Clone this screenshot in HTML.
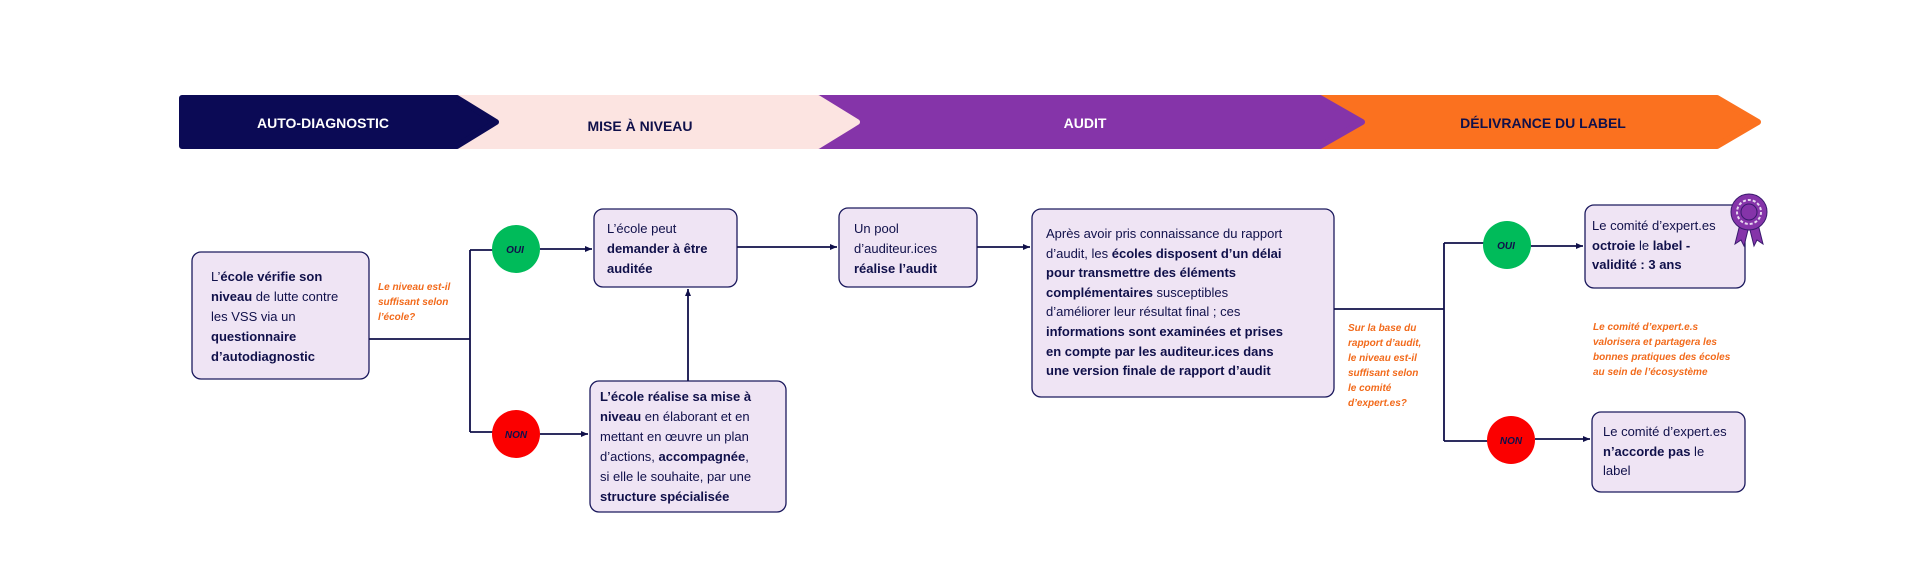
<!DOCTYPE html>
<html><head><meta charset="utf-8"><style>
body{margin:0;width:1920px;height:580px;background:#fff;position:relative;overflow:hidden;font-family:"Liberation Sans",sans-serif;color:#10104a}
.t{position:absolute;font-size:13px;line-height:20px;white-space:nowrap}
.t b{font-weight:bold}
.o{position:absolute;font-size:10px;line-height:15px;font-weight:bold;font-style:italic;color:#f26a1b;white-space:nowrap}
.bn{position:absolute;font-size:14px;font-weight:bold;transform:translate(-50%,-50%);white-space:nowrap}
</style></head><body>
<svg width="1920" height="580" style="position:absolute;left:0;top:0">
<defs><marker id="a" markerWidth="8" markerHeight="8" refX="7" refY="4" orient="auto" markerUnits="userSpaceOnUse"><path d="M0,1 L7,4 L0,7 Z" fill="#10104a"/></marker></defs>
<g stroke-linejoin="round" stroke-width="6">
<path d="M1310,98 H1717 L1758,122 L1717,146 H1310 Z" fill="#fb711f" stroke="#fb711f"/>
<path d="M775,98 H1320 L1362,122 L1320,146 H775 Z" fill="#8534a9" stroke="#8534a9"/>
<path d="M450,98 H818 L857,122 L818,146 H450 Z" fill="#fce4e1" stroke="#fce4e1"/>
<path d="M182,98 H457 L496,122 L457,146 H182 Z" fill="#0b0a55" stroke="#0b0a55"/>
</g>
<g fill="#efe4f4" stroke="#1c1a5e" stroke-width="1.3">
<rect x="192" y="252" width="177" height="127" rx="9"/>
<rect x="594" y="209" width="143" height="78" rx="9"/>
<rect x="839" y="208" width="138" height="79" rx="9"/>
<rect x="590" y="381" width="196" height="131" rx="9"/>
<rect x="1032" y="209" width="302" height="188" rx="9"/>
<rect x="1585" y="205" width="160" height="83" rx="9"/>
<rect x="1592" y="412" width="153" height="80" rx="9"/>
</g>
<g stroke="#10104a" stroke-width="1.8" fill="none">
<path d="M369,339 H470 M470,250 V432 M470,250 H500 M470,432 H500"/>
<path d="M540,249 H592" marker-end="url(#a)"/>
<path d="M540,434 H588" marker-end="url(#a)"/>
<path d="M688,381 V289" marker-end="url(#a)"/>
<path d="M737,247 H837" marker-end="url(#a)"/>
<path d="M977,247 H1030" marker-end="url(#a)"/>
<path d="M1334,309 H1444 M1444,243 V441 M1444,243 H1490 M1444,441 H1490"/>
<path d="M1531,246 H1583" marker-end="url(#a)"/>
<path d="M1535,439 H1590" marker-end="url(#a)"/>
</g>
<circle cx="516" cy="249" r="24" fill="#00bb5a"/>
<circle cx="516" cy="434" r="24" fill="#fb0000"/>
<circle cx="1507" cy="245" r="24" fill="#00bb5a"/>
<circle cx="1511" cy="440" r="24" fill="#fb0000"/>
<g font-family="Liberation Sans,sans-serif" font-size="10" font-weight="bold" font-style="italic" fill="#10104a" text-anchor="middle">
<text x="515" y="253">OUI</text><text x="516" y="438">NON</text>
<text x="1506" y="249">OUI</text><text x="1511" y="444">NON</text>
</g>
<g transform="translate(1749,212)">
<path d="M-8,8 L-14,32 L-8,28 L-5,34 L0,14 Z M8,8 L14,32 L8,28 L5,34 L0,14 Z" fill="#8534a9" stroke="#3a1a6e" stroke-width="1"/>
<circle r="18" fill="#8534a9" stroke="#3a1a6e" stroke-width="1"/>
<circle r="12" fill="none" stroke="#e8d8f0" stroke-width="2" stroke-dasharray="3 2"/>
<circle r="8" fill="#8534a9" stroke="#3a1a6e" stroke-width="1"/>
</g>
</svg>
<div class="bn" style="left:323px;top:123px;color:#fff">AUTO-DIAGNOSTIC</div>
<div class="bn" style="left:640px;top:126px;color:#10104a">MISE À NIVEAU</div>
<div class="bn" style="left:1085px;top:123px;color:#fff">AUDIT</div>
<div class="bn" style="left:1543px;top:123px;color:#10104a">DÉLIVRANCE DU LABEL</div>

<div class="t" style="left:211px;top:267px">L’<b>école vérifie son</b><br><b>niveau</b> de lutte contre<br>les VSS via un<br><b>questionnaire</b><br><b>d’autodiagnostic</b></div>
<div class="o" style="left:378px;top:280px">Le niveau est-il<br>suffisant selon<br>l’école?</div>
<div class="t" style="left:607px;top:219px">L’école peut<br><b>demander à être</b><br><b>auditée</b></div>
<div class="t" style="left:854px;top:219px">Un pool<br>d’auditeur.ices<br><b>réalise l’audit</b></div>
<div class="t" style="left:600px;top:387px"><b>L’école réalise sa mise à</b><br><b>niveau</b> en élaborant et en<br>mettant en œuvre un plan<br>d’actions, <b>accompagnée</b>,<br>si elle le souhaite, par une<br><b>structure spécialisée</b></div>
<div class="t" style="left:1046px;top:224px;line-height:19.6px">Après avoir pris connaissance du rapport<br>d’audit, les <b>écoles disposent d’un délai</b><br><b>pour transmettre des éléments</b><br><b>complémentaires</b> susceptibles<br>d’améliorer leur résultat final ; ces<br><b>informations sont examinées et prises</b><br><b>en compte par les auditeur.ices dans</b><br><b>une version finale de rapport d’audit</b></div>
<div class="o" style="left:1348px;top:321px">Sur la base du<br>rapport d’audit,<br>le niveau est-il<br>suffisant selon<br>le comité<br>d’expert.es?</div>
<div class="t" style="left:1592px;top:216px;line-height:19.5px">Le comité  d’expert.es<br><b>octroie</b> le <b>label -</b><br><b>validité : 3 ans</b></div>
<div class="o" style="left:1593px;top:320px">Le comité d’expert.e.s<br>valorisera et partagera les<br>bonnes pratiques des écoles<br>au sein de l’écosystème</div>
<div class="t" style="left:1603px;top:422px;line-height:19.5px">Le comité d’expert.es<br><b>n’accorde pas</b> le<br>label</div>
</body></html>
